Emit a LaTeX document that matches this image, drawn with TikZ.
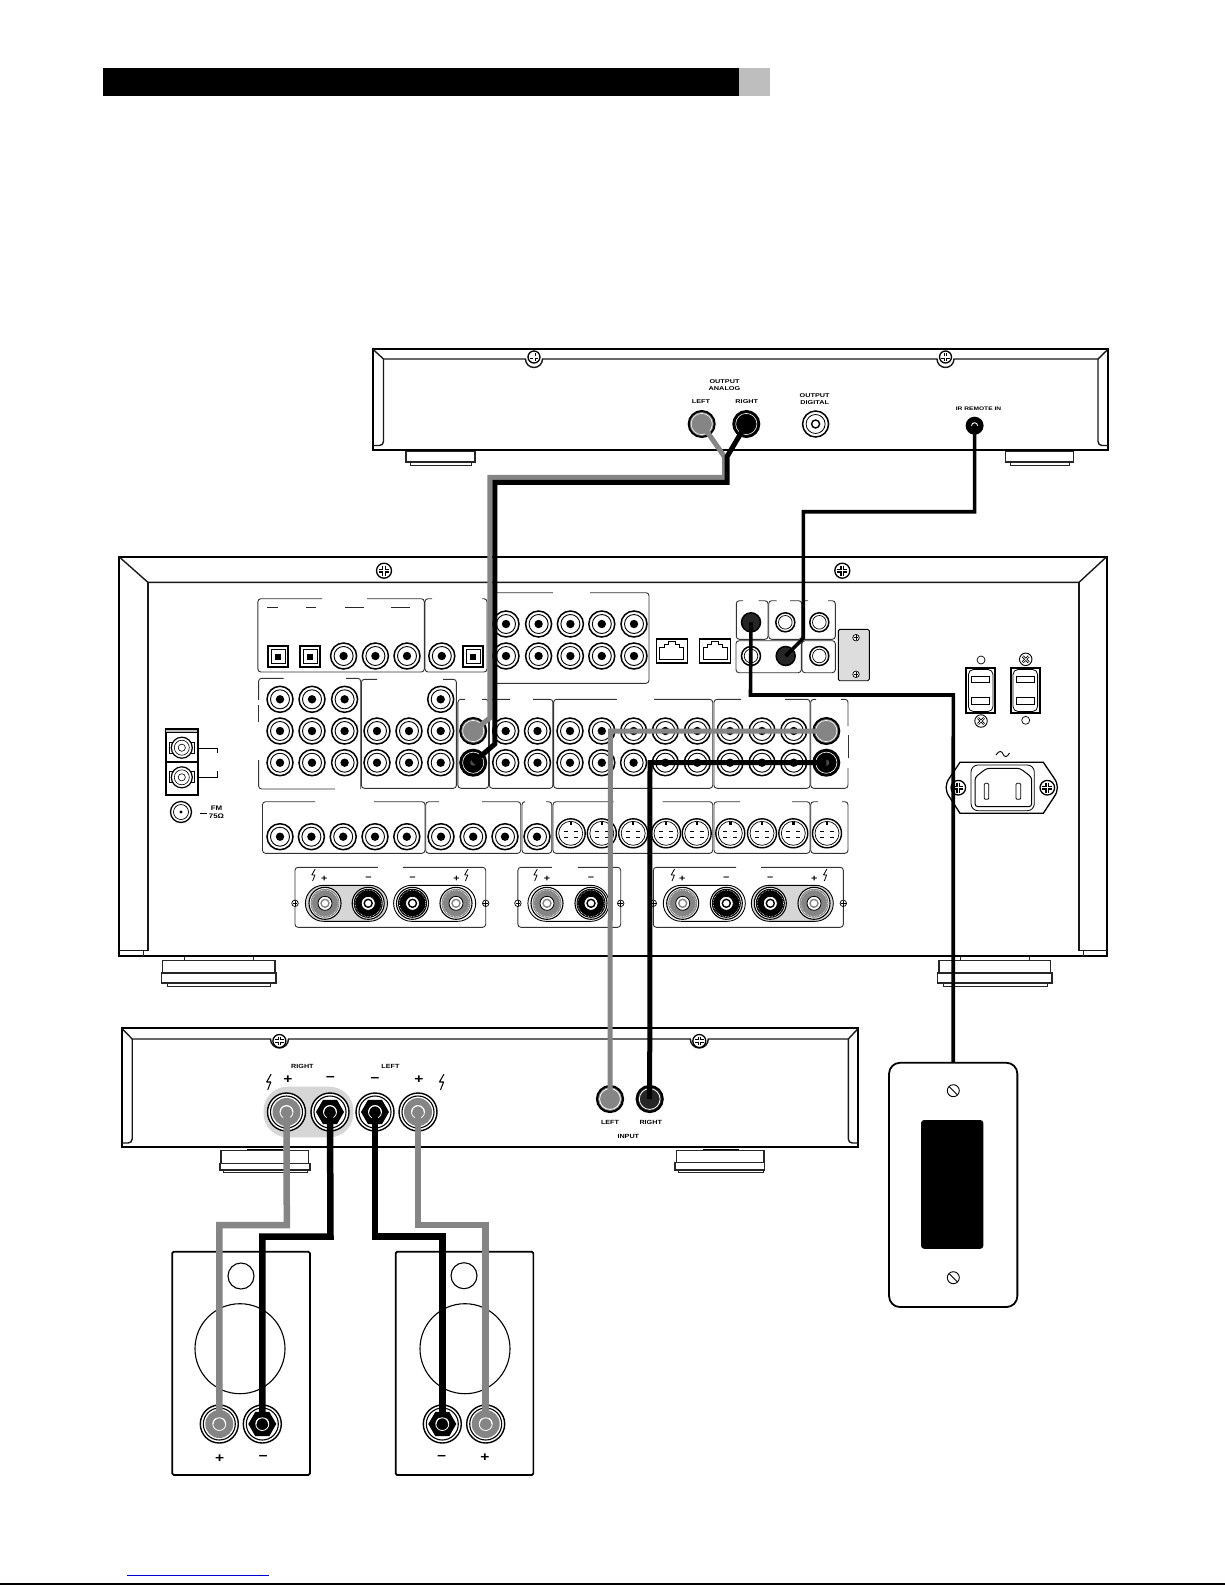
\documentclass[tikz,border=0pt]{standalone}
\usepackage{fontspec}
\newfontfamily\lab[FakeStretch=1.2]{Liberation Sans}
\newfontfamily\labb[FakeStretch=1.3]{Liberation Sans}
\definecolor{wiregray}{HTML}{858585}
\definecolor{platefill}{HTML}{DDDDDD}
\definecolor{ovalfill}{HTML}{D6D6D6}
\definecolor{linkblue}{HTML}{0000CC}
\definecolor{barfill}{HTML}{BEBEBE}
\tikzset{
 body/.style={line width=1.8pt,draw=black},
 bodyin/.style={line width=1.4pt,draw=black!90},
 foottop/.style={line width=1.1pt,draw=black!85,fill=white},
 panelline/.style={line width=.9pt,draw=black!80,rounded corners=3pt},
 hair/.style={line width=.8pt,draw=black!85},
 rcajack/.style={circle,draw=black,line width=1.5pt,minimum size=26pt,inner sep=0pt,fill=white},
 grayjack/.style={circle,draw=black,line width=2pt,minimum size=26pt,inner sep=0pt,fill=wiregray},
 blackjack/.style={circle,draw=black,line width=2pt,minimum size=26pt,inner sep=0pt,fill=black},
 smalljack/.style={circle,draw=black,line width=1.5pt,minimum size=19pt,inner sep=0pt,fill=white},
 smallblack/.style={circle,draw=black,line width=1.5pt,minimum size=19pt,inner sep=0pt,fill=black!85},
 svideo/.style={circle,draw=black,line width=1.4pt,minimum size=29pt,inner sep=0pt,fill=white},
 postouter/.style={circle,draw=black,line width=1.1pt,minimum size=32pt,inner sep=0pt,fill=white},
 ampouter/.style={circle,draw=black,line width=1.4pt,minimum size=38pt,inner sep=0pt,fill=white},
 wgray/.style={line width=5pt,draw=wiregray,line join=miter},
 wblack/.style={line width=5pt,draw=black,line join=miter},
 wthin/.style={line width=3.6pt,draw=black,line join=miter},
 sgray/.style={line width=6.5pt,draw=wiregray,line join=miter},
 sblack/.style={line width=6.5pt,draw=black,line join=miter},
 cdlabel/.style={inner sep=0pt,align=center,font=\labb\bfseries\fontsize{5.6}{7.8}\selectfont},
 cdsmall/.style={inner sep=0pt,align=center,font=\labb\bfseries\fontsize{5.1}{7}\selectfont},
 amplabel/.style={inner sep=0pt,align=center,font=\lab\bfseries\fontsize{6}{7}\selectfont},
 fmlabel/.style={inner sep=0pt,align=center,font=\lab\bfseries\fontsize{6.6}{7.6}\selectfont},
 sign/.style={inner sep=0pt,font=\lab\bfseries\fontsize{9}{9}\selectfont},
 bigsign/.style={inner sep=0pt,font=\lab\bfseries\fontsize{13}{13}\selectfont},
}
\newcommand{\Rca}[3]{\node[rcajack] (#1) at (#2,#3) {};
  \draw[line width=.9pt] (#2,#3) circle (9.5pt);
  \fill (#2,#3) circle (4.2pt);}
\newcommand{\Grayj}[3]{\node[grayjack] (#1) at (#2,#3) {};
  \draw[white,line width=.6pt] (#2,#3) circle (10.6pt);}
\newcommand{\Blackj}[3]{\node[blackjack] (#1) at (#2,#3) {};
  \draw[white,line width=.6pt] (#2,#3) circle (10.6pt);
  \fill[black!70] (#2,#3) circle (3pt);}
\newcommand{\Small}[3]{\node[smalljack] (#1) at (#2,#3) {};
  \draw[line width=.7pt] (#2,#3) circle (6.8pt);}
\newcommand{\Sv}[3]{\node[svideo] (#1) at (#2,#3) {};
  \draw[line width=.7pt] (#2,#3) circle (12pt);
  \fill (#2,#3) +(-1.2,-11) rectangle +(1.2,-8.5);
  \draw[line width=1.3pt] (#2,#3) +(-7,-1.5) -- +(-3,-1.5) +(3,-1.5) -- +(7,-1.5) +(-7,4.5) -- +(-3,4.5) +(3,4.5) -- +(7,4.5);}
\newcommand{\Opt}[3]{\node[draw=black,line width=2pt,minimum size=20.5pt,inner sep=0pt,fill=white] (#1) at (#2,#3) {};
  \draw[line width=.8pt] (#2,#3) +(-7,-7) rectangle +(7,7);
  \fill (#2,#3) +(-3,-3) rectangle +(3,3);}
\newcommand{\Screw}[4]{\node[circle,draw=black,line width=1.3pt,minimum size=#4*2pt,inner sep=0pt,fill=white] (#1) at (#2,#3) {};
  \draw[line width=#4*.5pt] (#2,#3) +(-#4*.68,0) -- +(#4*.68,0) +(0,-#4*.68) -- +(0,#4*.68);
  \draw[white,line width=#4*.2pt] (#2,#3) +(-#4*.68,0) -- +(#4*.68,0) +(0,-#4*.68) -- +(0,#4*.68);}
\newcommand{\Xscrew}[3]{\node[circle,draw=black,line width=.9pt,minimum size=12.5pt,inner sep=0pt,fill=white] (#1) at (#2,#3) {};
  \draw[line width=2.4pt] (#2,#3) +(-3,-3) -- +(3,3) +(-3,3) -- +(3,-3);
  \draw[white,line width=.7pt] (#2,#3) +(-3,-3) -- +(3,3) +(-3,3) -- +(3,-3);}
\newcommand{\Tiny}[3]{\node[circle,draw=black,line width=.7pt,minimum size=6.5pt,inner sep=0pt,fill=white] (#1) at (#2,#3) {};
  \draw[line width=.6pt] (#2,#3) +(-2.4,0) -- +(2.4,0) +(0,-2.4) -- +(0,2.4);}
\newcommand{\Post}[4]{\node[postouter] (#1) at (#2,#3) {};
  \fill[#4] (#2,#3) circle (14.5pt);
  \draw[white,line width=.6pt,densely dotted] (#2,#3) circle (13.2pt);
  \draw[line width=.8pt,fill=white] (#2,#3) circle (7pt);
  \draw[#4,line width=1.4pt] (#2,#3) circle (4pt);}
\newcommand{\Ampgray}[4]{\node[ampouter] (#1) at (#2,#3) {};
  \draw[line width=1.1pt] (#2,#3) circle (#4*16/19);
  \fill[wiregray] (#2,#3) circle (#4*14/19);
  \draw[white,line width=.8pt] (#2,#3) circle (#4*6.5/19);}
\newcommand{\Ampblack}[4]{\node[ampouter] (#1) at (#2,#3) {};
  \draw[line width=1.1pt] (#2,#3) circle (#4*16/19);
  \fill (#2,#3) +(0:#4*14/19) -- +(60:#4*14/19) -- +(120:#4*14/19) -- +(180:#4*14/19) -- +(240:#4*14/19) -- +(300:#4*14/19) -- cycle;
  \draw[white,line width=.8pt] (#2,#3) circle (#4*6.5/19);}
\newcommand{\Cap}[2]{\draw[white,line width=.9pt] (#1,#2) +(-6.2pt,0) arc[start angle=180,end angle=0,radius=6.2pt];}
\newcommand{\Bolt}[3]{\draw[line width=#3*.8pt,line join=bevel] (#1,#2) +(#3*1.6,-#3*6) -- +(-#3*1.8,0) -- +(#3*1.4,0) -- +(-#3*1,#3*6);}
\newcommand{\Top}[7]{\draw[panelline] (#5,#2) -- (#1,#2) -- (#1,#4) -- (#3,#4) -- (#3,#2) -- (#6,#2);}
\newcommand{\Foot}[9]{%
  \draw[foottop] (#3,#1) rectangle (#4,#6);
  \draw[foottop] (#5,#6) rectangle (#7,#8);
  \draw[foottop,line width=.9pt] (#2,#8) rectangle (#9,#8+3);}
\begin{document}
\begin{tikzpicture}[x=1pt,y=-1pt]
\useasboundingbox (0,0) rectangle (1225,1585);
\fill[white] (0,0) rectangle (1225,1585);
% header bar and page foot
\fill[black] (103,68) rectangle (739,96);
\fill[barfill] (739,68) rectangle (770,96);
\draw[linkblue,line width=1.3pt] (127,1575.3) -- (269,1575.3);
\draw[black,line width=1.5pt] (0,1584) -- (1225,1584);

%%%%% CD player
\draw[foottop] (406,451.5) rectangle (475,462);
\draw[foottop,line width=.8pt] (410,462) rectangle (471.5,465.5);
\draw[foottop] (1005.7,451.5) rectangle (1073.5,462);
\draw[foottop,line width=.8pt] (1010,462) rectangle (1069,465.5);
\draw[body] (373,349.3) rectangle (1108,450);
\draw[bodyin] (373,349.3) -- (383.5,359) -- (525.5,359)
   arc[start angle=180,end angle=360,radius=8.5pt] -- (937,359)
   arc[start angle=180,end angle=360,radius=8.5pt] -- (1098,359) -- (1108,349.3);
\draw[bodyin,rounded corners=4pt] (383.5,359) -- (383.5,445.5) -- (373,445.5);
\draw[bodyin,rounded corners=4pt] (1098,359) -- (1098,445.5) -- (1108,445.5);
\Screw{cdsa}{534}{357}{6}
\Screw{cdsb}{945.5}{357}{6}
\node[cdlabel] (cdtoutan) at (724.5,385) {OUTPUT\\ANALOG};
\node[cdlabel] (cdtleft) at (701,401.7) {LEFT};
\node[cdlabel] (cdtright) at (746.8,401.7) {RIGHT};
\node[cdlabel] (cdtoutdi) at (814.7,399) {OUTPUT\\DIGITAL};
\node[cdsmall] (cdtir) at (978.5,408.3) {IR REMOTE IN};
\Grayj{cdL}{701.7}{424}
\node[blackjack] (cdR) at (746.3,424) {};
\draw[white,line width=.6pt] (746.3,424) circle (10.6pt);
\node[rcajack] (cdD) at (815.6,424) {};
\draw[line width=.8pt] (815.6,424) circle (9.5pt);
\draw[line width=1.4pt] (815.6,424) circle (4pt);
\node[circle,fill=black,minimum size=18pt,inner sep=0pt] (cdIR) at (974.6,425.7) {};

%%%%% Receiver
\Foot{960.7}{167}{162.5}{275}{161.5}{973}{276}{983}{270}
\draw[hair] (184.6,956) -- (184.6,960.7) (253,956) -- (253,960.7);
\Foot{960.7}{943}{939}{1050.7}{937.7}{973}{1052}{983}{1047}
\draw[hair] (960.7,956) -- (960.7,960.7) (1029,956) -- (1029,960.7);
\draw[body] (119,556.7) rectangle (1106.7,956);
\draw[bodyin] (119,556.7) -- (147.9,582.3) -- (1079,582.3) -- (1106.7,556.7);
\draw[bodyin] (119,950.7) -- (147.9,950.7) -- (147.9,582.3);
\draw[bodyin] (1106.7,950.7) -- (1079,950.7) -- (1079,582.3);
\draw[hair] (143,950.7) -- (143,956) (1083,950.7) -- (1083,956);
\Screw{rxsa}{384}{570.7}{7.5}
\Screw{rxsb}{842.3}{570.7}{7.5}

% panels
\Top{257.9}{598.7}{424.3}{672}{322}{367}{}
\Top{425}{598.7}{487}{672}{432}{482}{}
\draw[panelline] (493,592.7) -- (649,592.7) -- (649,683.3) -- (493,683.3);
\fill[white] (553,590) rectangle (590,595);
\draw[hair] (267,607) -- (278,607) (306,607) -- (316,607) (345,607) -- (363.6,607) (391,607) -- (410,607);
\draw[panelline] (283.5,678.3) -- (258.6,678.3) -- (258.6,700);
\draw[panelline] (258.6,705) -- (258.6,722);
\draw[panelline] (258.6,760) -- (258.6,789) -- (335,789);
\draw[panelline] (346,678.3) -- (360.7,678.3) -- (360.7,789);
\Top{361.4}{679.3}{456.4}{788.3}{377}{443}{}
\Top{457.9}{699.3}{488.6}{788.3}{465}{482}{}
\Top{489.3}{699.3}{552.9}{788.3}{510}{533}{}
\Top{553.6}{699.3}{712.7}{788.3}{616.8}{654}{}
\Top{714}{699.3}{810}{788.3}{741}{785}{}
\draw[panelline] (816,699.3) -- (810.7,699.3) -- (810.7,788.3) -- (848,788.3) -- (848,768);
\draw[panelline] (841,699.3) -- (848,699.3) -- (848,726);
\draw[panelline] (848,735) -- (848,758);
\Top{262.5}{801.7}{425}{853.3}{315}{374}{}
\Top{425.7}{801.7}{520.7}{853.3}{439}{482}{}
\Top{522}{801.7}{551.8}{853.3}{525}{546}{}
\Top{553}{801.7}{712.7}{853.3}{613.6}{662.7}{}
\Top{714}{801.7}{810}{853.3}{740}{792}{}
\Top{810.7}{801.7}{848}{853.3}{818}{842}{}
\Top{295}{867.3}{485.7}{927.3}{377.9}{402.9}{}
\Top{517.9}{867.3}{620.7}{927.3}{551.8}{578}{}
\Top{653.3}{867.3}{843.3}{927.3}{736}{761}{}
% speaker ovals
\draw[line width=.9pt,fill=ovalfill,rounded corners=18pt] (305.4,885.3) rectangle (387.5,921.3);
\draw[line width=.9pt,fill=white,rounded corners=18pt] (393.6,885.3) rectangle (475.7,921.3);
\draw[line width=.9pt,fill=white,rounded corners=18pt] (527.9,885.3) rectangle (608.9,921.3);
\draw[line width=.9pt,fill=white,rounded corners=18pt] (663.3,885.3) rectangle (745.3,921.3);
\draw[line width=.9pt,fill=ovalfill,rounded corners=18pt] (751.3,885.3) rectangle (833.3,921.3);
% jacks row A/B at top
\foreach \i/\x in {1/506,2/538.6,3/570.4,4/601.8,5/634}{
  \Rca{ta\i}{\x}{624}
  \Rca{tb\i}{\x}{656}
}
\Opt{op1}{278}{656.5}
\Opt{op2}{310}{656.5}
\Opt{op3}{473.2}{656.5}
\foreach \i/\x in {1/343.6,2/375.4,3/407,4/441.8}{\Rca{tc\i}{\x}{656}}
% middle block
\foreach \i/\x in {1/280,2/312,3/344.6}{
  \Rca{ma\i}{\x}{699.3}
  \Rca{mb\i}{\x}{731}
  \Rca{mc\i}{\x}{762.7}
}
\Rca{me0}{440.7}{699.3}
\foreach \i/\x in {1/377,2/409,3/440.7,4/505.7,5/537.5,6/570,7/601.8,8/633.6,9/665.3,10/697.3,11/730,12/762,13/793.7}{
  \Rca{md\i}{\x}{731}
  \Rca{mf\i}{\x}{762.7}
}
\Grayj{inL}{473.2}{731}
\Blackj{inR}{473.2}{762.7}
\Grayj{outL}{826.3}{731}
\Blackj{outR}{826.3}{762.7}
% lower row
\foreach \i/\x in {1/280,2/311.4,3/343.2,4/375,5/406.8,6/441,7/473.2,8/505,9/537}{\Rca{lo\i}{\x}{836.7}}
\foreach \i/\x in {1/570.7,2/601.8,3/633.2,4/666,5/696.7,6/730.3,7/762,8/793.3,9/827}{\Sv{sv\i}{\x}{833.3}}
% speaker posts
\Post{pa1}{325}{903.3}{wiregray}
\Post{pa2}{368.2}{903.3}{black}
\Post{pa3}{412.5}{903.3}{black}
\Post{pa4}{456}{903.3}{wiregray}
\Post{pb1}{547}{903.3}{wiregray}
\Post{pb2}{591}{903.3}{black}
\Post{pc1}{682.7}{903.3}{wiregray}
\Post{pc2}{726.3}{903.3}{black}
\Post{pc3}{770.3}{903.3}{black}
\Post{pc4}{814}{903.3}{wiregray}
\foreach \i/\x in {1/295,2/485.7,3/517.9,4/620.7,5/653.3,6/843.3}{\Tiny{ts\i}{\x}{903.3}}
\node[sign] (s1) at (324.3,878.7) {+};
\node[sign] (s2) at (368.6,878.7) {−};
\node[sign] (s3) at (412.5,878.7) {−};
\node[sign] (s4) at (456.4,878.7) {+};
\node[sign] (s5) at (547,878.7) {+};
\node[sign] (s6) at (591,878.7) {−};
\node[sign] (s7) at (682.3,878.7) {+};
\node[sign] (s8) at (726.3,878.7) {−};
\node[sign] (s9) at (770.3,878.7) {−};
\node[sign] (s10) at (814.3,878.7) {+};
\Bolt{313.6}{875}{1}
\Bolt{466.4}{875}{1}
\Bolt{535.7}{875}{1}
\Bolt{673}{875}{1}
\Bolt{825.3}{875}{1}
% antenna
\draw[line width=2pt,fill=white] (165.7,729.3) rectangle (197.5,795);
\draw[line width=1.6pt] (165.7,762) -- (197.5,762);
\draw[line width=.8pt,fill=black!25] (165.7,729.3) rectangle (197.5,732.5);
\foreach \n/\y in {ana/747.7,anb/777.3}{
  \draw[line width=.9pt] (169,\y-5.5) rectangle (194,\y+5.5);
  \node[circle,draw=black,line width=1.2pt,fill=white,minimum size=21pt,inner sep=0pt] (\n) at (181.8,\y) {};
  \draw[line width=.6pt] (181.8,\y) circle (7.5pt) (181.8,\y) circle (3.6pt);
}
\draw[line width=.9pt] (197.5,748.3) -- (217.9,748.3) -- (217.9,753);
\draw[line width=.9pt] (197.5,777.3) -- (217.9,777.3) -- (217.9,770.7);
\node[circle,draw=black,line width=1.3pt,fill=white,minimum size=21pt,inner sep=0pt] (fmjack) at (181,812) {};
\draw[line width=.7pt] (181,812) circle (7.5pt);
\fill (181,812) circle (1.6pt);
\draw[line width=.8pt] (200,813) -- (207,813);
\node[fmlabel] (fmtext) at (216.5,812.5) {FM\\75Ω};
% network
\node[draw=black,line width=1.5pt,minimum width=31pt,minimum height=24pt,inner sep=0pt] (rja) at (671.8,651) {};
\node[draw=black,line width=1.9pt,minimum width=31pt,minimum height=24pt,inner sep=0pt] (rjb) at (715,651) {};
\foreach \c in {671.8,715}{
  \draw[line width=.7pt] (\c,651) +(-12,8.3) -- +(-12,-3.7) -- +(-7.2,-3.7) -- +(-7.2,-7) -- +(-3.8,-7) -- +(-3.8,-9.3) -- +(3.8,-9.3) -- +(3.8,-7) -- +(7.2,-7) -- +(7.2,-3.7) -- +(12,-3.7) -- +(12,8.3) -- cycle;
}
% control block
\draw[panelline] (743,600.7) -- (736.3,600.7) -- (736.3,639.3) -- (768,639.3) -- (768,600.7) -- (758.7,600.7);
\draw[panelline] (776.7,600.7) -- (768.7,600.7) -- (768.7,639.3) -- (801.7,639.3) -- (801.7,600.7) -- (790,600.7);
\draw[panelline] (808,600.7) -- (802.3,600.7) -- (802.3,639.3) -- (835.3,639.3) -- (835.3,600.7) -- (828,600.7);
\draw[panelline] (736,640.7) rectangle (801.3,672.7);
\draw[panelline] (802,640.7) rectangle (835.3,672.7);
\node[smallblack] (irA) at (751,622.3) {};
\Small{irU}{785.3}{622.3}
\Small{irV}{819.3}{622.3}
\Small{irC}{751}{656}
\node[smallblack] (irB) at (785.7,656) {};
\Small{irX}{819.3}{656}
\draw[line width=.9pt,fill=platefill,rounded corners=1.5pt] (838.3,629.3) rectangle (869.3,680.7);
\Tiny{pla}{856}{637.7}
\Tiny{plb}{856}{674.3}
% outlets
\foreach \n/\xa/\xb in {ola/965.7/995.7,olb/1010.3/1040.3}{
  \node[draw=black,line width=1.5pt,minimum width=29pt,minimum height=45pt,inner sep=0pt] (\n) at ({(\xa+\xb)/2},690.3) {};
  \draw[line width=.8pt,rounded corners=5pt] (\xa+2.7,669.5) rectangle (\xb-2.7,711.5);
  \draw[line width=.9pt] (\xa+6,676.7) rectangle (\xb-6,682.9);
  \draw[line width=.9pt] (\xa+6,697.6) rectangle (\xb-6,704);
}
\draw[line width=.7pt] (981,660) circle (4pt);
\Xscrew{ols}{981}{721}
\Xscrew{olt}{1025.7}{659.3}
\draw[line width=.7pt] (1025.7,720.3) circle (4pt);
% IEC inlet
\draw[line width=1.3pt,fill=white] (960,762.3) -- (1043.3,762.3) -- (1054,778) .. controls (1058.5,784) and (1058.5,791) .. (1054,797) -- (1043.3,813.3) -- (960,813.3) -- (949.5,797) .. controls (945,791) and (945,784) .. (949.5,778) -- cycle;
\draw[line width=.8pt,rounded corners=7pt] (971,765) rectangle (1034.3,810.7);
\draw[line width=1pt,rounded corners=3pt] (975,777.3) -- (986.7,768.3) -- (1020,768.3) -- (1031.7,777.3) -- (1031.7,806.7) -- (975,806.7) -- cycle;
\draw[line width=.8pt,rounded corners=1pt] (984.3,783.3) rectangle (988.7,799.3);
\draw[line width=.8pt,rounded corners=1pt] (1016,783.3) rectangle (1020.7,799.3);
\Screw{iea}{958.3}{787.7}{7.3}
\Screw{ieb}{1047.3}{787.7}{7.3}
\draw[line width=.9pt] (996,755) .. controls (999,750) and (1002,751) .. (1003,754) .. controls (1004,757) and (1007,758) .. (1009.5,753);

%%%%% Amplifier
\draw[foottop] (221,1150.7) rectangle (308.7,1163.3);
\draw[foottop] (220,1163.3) rectangle (310,1170);
\draw[foottop,line width=.8pt] (223,1170) rectangle (307,1172.7);
\draw[foottop] (676.7,1150.7) rectangle (764,1162.7);
\draw[foottop] (675,1162.7) rectangle (764.3,1170);
\draw[foottop,line width=.8pt] (678,1170) rectangle (763,1172.7);
\draw[line width=1pt] (247,1149.5) -- (283,1149.5) (702.7,1149.5) -- (738.7,1149.5);
\draw[body] (121.8,1028.3) rectangle (858.3,1146.7);
\draw[bodyin] (121.8,1028.3) -- (132.2,1039) -- (270.5,1039)
  arc[start angle=180,end angle=360,radius=9pt] -- (690.3,1039)
  arc[start angle=180,end angle=360,radius=9pt] -- (848.3,1039) -- (858.3,1028.3);
\draw[bodyin,rounded corners=4pt] (132.2,1039) -- (132.2,1143) -- (121.8,1143);
\draw[bodyin,rounded corners=4pt] (848.3,1039) -- (848.3,1143) -- (858.3,1143);
\Screw{amsa}{279.4}{1041}{6.5}
\Screw{amsb}{699.3}{1041}{6.5}
\fill[ovalfill,rounded corners=24pt] (263.5,1086.7) rectangle (353.4,1137.3);
\Ampgray{aRp}{286.5}{1112}{19pt}
\Ampblack{aRm}{330}{1112}{19pt}
\Ampblack{aLm}{375}{1112}{19pt}
\Ampgray{aLp}{418}{1112}{19pt}
\node[amplabel] (ta1) at (302.4,1066.7) {RIGHT};
\node[amplabel] (ta2) at (390.4,1066.7) {LEFT};
\node[bigsign] (ta3) at (288,1079.7) {+};
\node[bigsign] (ta4) at (330.5,1079) {−};
\node[bigsign] (ta5) at (375,1079.7) {−};
\node[bigsign] (ta6) at (419,1079.7) {+};
\Bolt{269}{1082}{1.3}
\Bolt{441.8}{1082}{1.3}
\node[grayjack,line width=2.2pt] (ampL) at (610,1099) {};
\draw[white,line width=.8pt] (610,1099) circle (10.4pt);
\node[blackjack,fill=black!85,line width=2.2pt] (ampR) at (649.7,1099) {};
\draw[white,line width=.8pt] (649.7,1099) circle (10.4pt);
\node[amplabel] (ta7) at (610,1122.7) {LEFT};
\node[amplabel] (ta8) at (650.7,1122.7) {RIGHT};
\node[amplabel] (ta9) at (628.3,1136) {INPUT};

%%%%% Speakers
\node[draw=black,line width=1.7pt,rounded corners=1.5pt,minimum width=137.7pt,minimum height=223.3pt,inner sep=0pt] (spkA) at (241.1,1363.3) {};
\node[draw=black,line width=1.7pt,rounded corners=1.5pt,minimum width=137.7pt,minimum height=223.3pt,inner sep=0pt] (spkB) at (464.5,1363.3) {};
\node[circle,draw=black,line width=1.1pt,minimum size=26pt,inner sep=0pt] (twA) at (241,1276) {};
\node[circle,draw=black,line width=1.1pt,minimum size=26pt,inner sep=0pt] (twB) at (464,1275.7) {};
\node[circle,draw=black,line width=1.1pt,minimum size=90pt,inner sep=0pt] (wfA) at (240,1348.7) {};
\node[circle,draw=black,line width=1.1pt,minimum size=90pt,inner sep=0pt] (wfB) at (465,1348.7) {};
\Ampgray{sRp}{219.3}{1424}{19pt}
\Ampblack{sRm}{262.3}{1424}{19pt}
\Ampblack{sLm}{442.3}{1424}{19pt}
\Ampgray{sLp}{485.7}{1424}{19pt}
\node[bigsign] (sp1) at (219.7,1459) {+};
\node[bigsign] (sp2) at (263.3,1458.3) {−};
\node[bigsign] (sp3) at (441.7,1457.7) {−};
\node[bigsign] (sp4) at (485,1457.7) {+};

%%%%% Wall plate
\node[draw=black,line width=1.8pt,fill=white,rounded corners=11pt,minimum width=128.3pt,minimum height=244.3pt,inner sep=0pt] (plate) at (953.2,1184.9) {};
\node[fill=black,rounded corners=3pt,minimum width=62.3pt,minimum height=128.7pt,inner sep=0pt] (window) at (952.2,1184.4) {};
\foreach \n/\y in {wsa/1090.7,wsb/1277.7}{
  \node[circle,draw=black,line width=.9pt,minimum size=12pt,inner sep=0pt] (\n) at (953.3,\y) {};
  \draw[line width=.9pt] (949.2,\y-4.1) -- (957.4,\y+4.1);
}

%%%%% Wires
\draw[wgray] (cdL.center) -- (724.5,456.7) -- (724.5,477.3) -- (489.8,477.3) -- (489.8,718) -- (inL.center);
\draw[wblack] (cdR.center) -- (727,456.7) -- (727,482.3) -- (494.8,482.3) -- (494.8,744) -- (inR.center);
\draw[wthin] (cdIR.center) -- (974.6,511.7) -- (803.3,511.7) -- (803.3,638.3) -- (irB.center);
\draw[wthin] (irA.center) -- (750.5,695) -- (953.3,695) -- (plate.north);
\draw[wgray] (outL.center) -- (610.5,731) -- (ampL.center);
\draw[wblack] (outR.center) -- (650,762.7) -- (ampR.center);
\draw[sgray] (aRp.center) -- (286.8,1225) -- (219.3,1225) -- (sRp.center);
\draw[sblack] (aRm.center) -- (330.5,1236.7) -- (262.3,1236.7) -- (sRm.center);
\draw[sblack] (aLm.center) -- (375,1236.7) -- (442.3,1236.7) -- (sLm.center);
\draw[sgray] (aLp.center) -- (418,1225) -- (485.7,1225) -- (sLp.center);
\Cap{286.5}{1112}
\Cap{330}{1112}
\Cap{375}{1112}
\Cap{418}{1112}
\Cap{219.3}{1424}
\Cap{262.3}{1424}
\Cap{442.3}{1424}
\Cap{485.7}{1424}
\draw[white,line width=.9pt] (974.6,425.7) +(-3pt,0) arc[start angle=180,end angle=0,radius=3pt];
\end{tikzpicture}
\end{document}
